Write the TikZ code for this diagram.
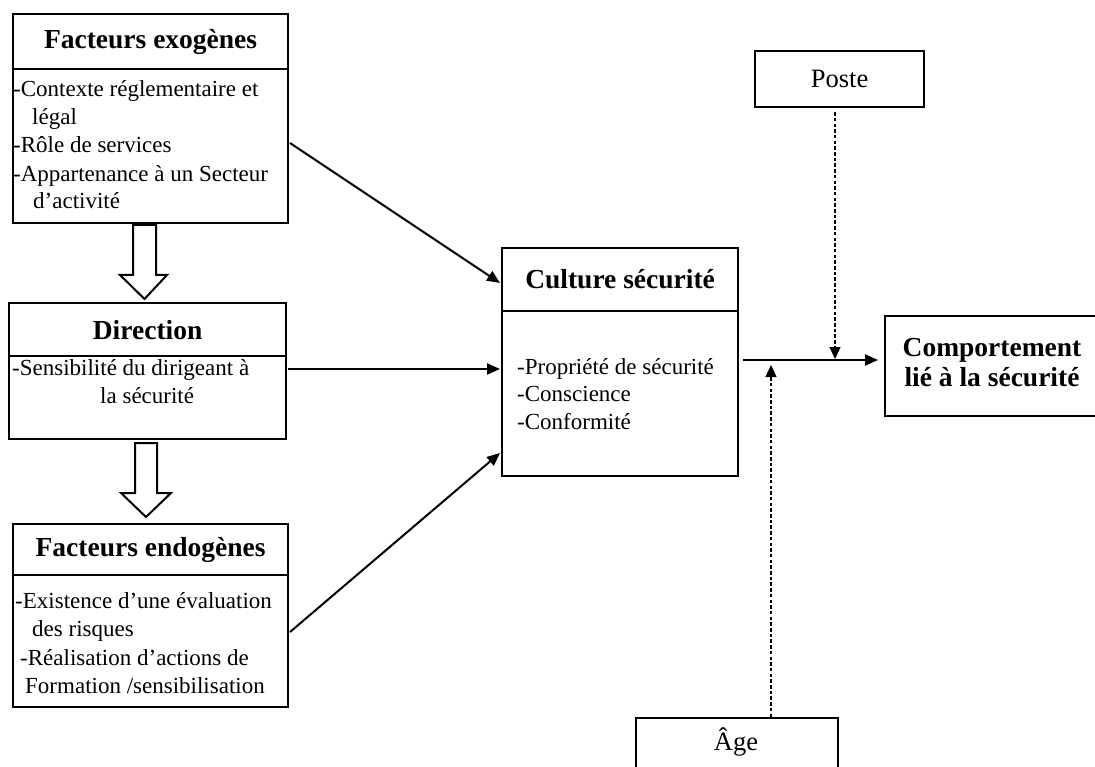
\documentclass[tikz,border=0pt]{standalone}
\usepackage{fontspec}
\setmainfont{Liberation Serif}
\usetikzlibrary{arrows.meta}
\tikzset{
  boxnode/.style={draw, line width=2.2pt, anchor=north west, inner sep=0pt},
  headtext/.style={font=\fontsize{27.5}{30}\selectfont\bfseries},
  bodyline/.style={anchor=base west, inner sep=0pt, font=\fontsize{23}{28}\selectfont},
  plaintext/.style={font=\fontsize{26.5}{30}\selectfont},
  solidarrow/.style={line width=2pt, -{Triangle[length=13pt,width=11pt]}},
  dasharrow/.style={line width=1.1pt, dash pattern=on 3.5pt off 2.2pt, -{Triangle[length=12pt,width=11pt]}},
  hollow/.style={draw, line width=2pt, fill=white, line join=miter}
}
\begin{document}
\begin{tikzpicture}[x=1pt,y=-1pt]
\useasboundingbox (0,0) rectangle (1095,767);
% Facteurs exogenes
\node[boxnode, minimum width=275pt, minimum height=55pt, headtext] (exoH) at (12,13) {Facteurs exogènes};
\node[boxnode, minimum width=275pt, minimum height=154pt] (exoB) at (12,68) {};
\node[bodyline] (e1) at (13,97) {-Contexte réglementaire et};
\node[bodyline] (e2) at (32,124.5) {légal};
\node[bodyline] (e3) at (13,153) {-Rôle de services};
\node[bodyline] (e4) at (13,181.5) {-Appartenance à un Secteur};
\node[bodyline] (e5) at (33,209) {d’activité};
% Direction
\node[boxnode, minimum width=277pt, minimum height=53pt, headtext] (dirH) at (8,302) {Direction};
\node[boxnode, minimum width=277pt, minimum height=83pt] (dirB) at (8,355) {};
\node[bodyline] (d1) at (12,375) {-Sensibilité du dirigeant à};
\node[bodyline] (d2) at (100,403) {la sécurité};
% Facteurs endogenes
\node[boxnode, minimum width=275pt, minimum height=51pt, headtext] (endH) at (12,523) {Facteurs endogènes};
\node[boxnode, minimum width=275pt, minimum height=132pt] (endB) at (12,574) {};
\node[bodyline] (n1) at (15,608) {-Existence d’une évaluation};
\node[bodyline] (n2) at (32,636.5) {des risques};
\node[bodyline] (n3) at (20,665) {-Réalisation d’actions de};
\node[bodyline] (n4) at (25,693) {Formation /sensibilisation};
% Culture securite
\node[boxnode, minimum width=236pt, minimum height=63pt, headtext] (culH) at (501,247) {Culture sécurité};
\node[boxnode, minimum width=236pt, minimum height=165pt] (culB) at (501,310) {};
\node[bodyline] (c1) at (517,374) {-Propriété de sécurité};
\node[bodyline] (c2) at (517,401.5) {-Conscience};
\node[bodyline] (c3) at (517,429) {-Conformité};
% Comportement
\node[boxnode, minimum width=218pt, minimum height=100pt] (comp) at (884,315) {};
\node[align=center, font=\fontsize{27.5}{30}\selectfont\bfseries] (compT) at (992,363) {Comportement\\lié à la sécurité};
% Poste and Age
\node[boxnode, minimum width=169pt, minimum height=56pt, plaintext] (poste) at (754,50) {Poste};
\node[boxnode, minimum width=202pt, minimum height=60pt] (age) at (635,717) {};
\node[plaintext] (ageT) at (736,742) {Âge};
% hollow block arrows
\draw[hollow] (133,225) -- (156,225) -- (156,275) -- (167,275) -- (144.5,299) -- (120,275) -- (133,275) -- cycle;
\draw[hollow] (135,443) -- (157,443) -- (157,493) -- (171,493) -- (146,517) -- (121,493) -- (135,493) -- cycle;
% solid connectors
\coordinate (s1) at (290,143);
\coordinate (t1) at (500,283);
\draw[solidarrow] (s1) -- (t1);
\coordinate (s2) at (288,369);
\coordinate (t2) at (500,369);
\draw[solidarrow] (s2) -- (t2);
\coordinate (s3) at (290,632);
\coordinate (t3) at (500,453);
\draw[solidarrow] (s3) -- (t3);
\coordinate (jn) at (743,360);
\draw[solidarrow] (jn) -- ([xshift=-6pt]comp.west |- jn);
% dashed moderators
\coordinate (pj) at (835,359);
\coordinate (aj) at (771,365);
\draw[dasharrow] ([yshift=-4pt]poste.south -| pj) -- (pj);
\draw[dasharrow] (age.north -| aj) -- (aj);
\end{tikzpicture}
\end{document}
